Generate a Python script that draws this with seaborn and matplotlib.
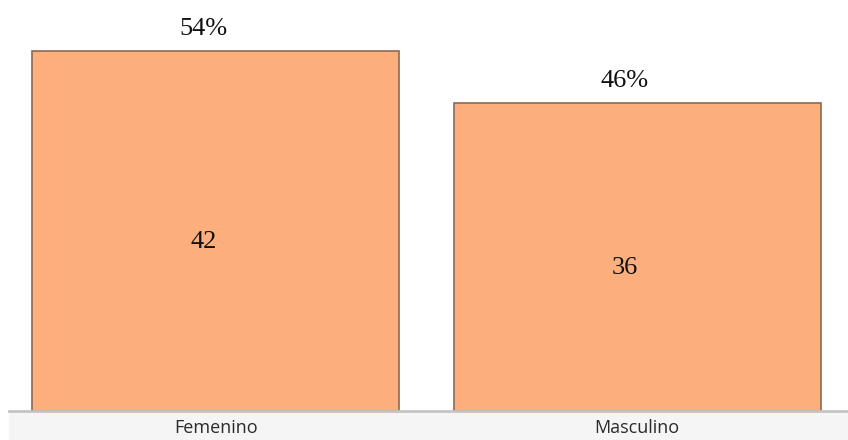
import matplotlib
matplotlib.use("Agg")
import matplotlib.pyplot as plt
import seaborn as sns
import pandas as pd
from matplotlib.patches import Rectangle

categories = ["Femenino", "Masculino"]
counts = [42, 36]

df = pd.DataFrame({"sexo": categories, "n": counts})
total = sum(counts)

sns.set_theme(style="white")
fig = plt.figure(figsize=(8.48, 4.4), dpi=100)
fig.patch.set_facecolor("white")

# light gray strip behind the category labels
fig.add_artist(Rectangle((9 / 848, 0), 1 - 9 / 848, 29 / 440,
                         transform=fig.transFigure, facecolor="#f5f5f5",
                         edgecolor="none", zorder=0))

ax = fig.add_axes([5 / 848, 29 / 440, 843 / 848, 411 / 440])
ax.set_facecolor("none")

sns.barplot(data=df, x="sexo", y="n", ax=ax, color="#fcaf7c",
            saturation=1, width=0.87, edgecolor="#8a6a55", linewidth=1.2)

ax.set_xlim(-0.5, 1.5)
ax.set_ylim(0, 48)
ax.set_xlabel("")
ax.set_ylabel("")
ax.set_yticks([])
for s in ["top", "left", "right"]:
    ax.spines[s].set_visible(False)
ax.spines["bottom"].set_color("#c4c4c4")
ax.spines["bottom"].set_linewidth(2)
ax.spines["bottom"].set_bounds(-0.49, 1.5)
ax.tick_params(axis="x", length=0, pad=5.5)
for lab in ax.get_xticklabels():
    lab.set_fontfamily("Open Sans")
    lab.set_fontsize(13)
    lab.set_color("#2a2a2a")

for i, v in enumerate(counts):
    pct = round(100 * v / total)
    ax.annotate(f"{pct}%", (i, v), xytext=(-9, 8), textcoords="offset points",
                ha="center", va="bottom", fontfamily="Liberation Serif",
                fontsize=19, color="#111111")
    ax.annotate(f"{v}", (i, v / 2), xytext=(-9, -8), textcoords="offset points",
                ha="center", va="center", fontfamily="Liberation Serif",
                fontsize=19, color="#111111")

fig.savefig("out.png", dpi=100)
